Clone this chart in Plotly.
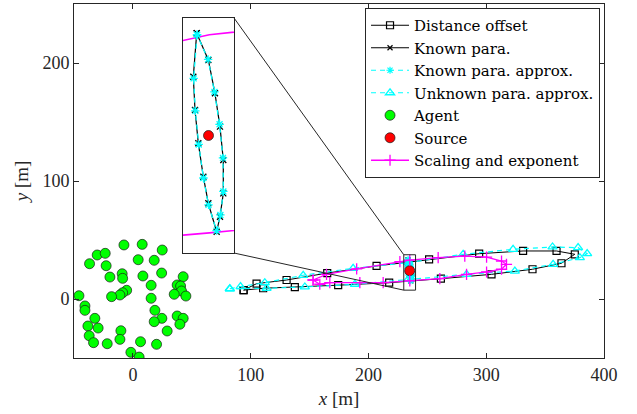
import plotly.graph_objects as go

# ---------------- data ----------------
x_ticks = [0, 100, 200, 300, 400]
y_ticks = [0, 100, 200]

# Distance offset trajectory (black, squares)
dist_x = [94.0, 105.0, 130.5, 165.0, 206.9, 251.5, 294.0, 331.3, 359.7, 375.2,
          363.9, 339.3, 304.5, 261.5, 217.6, 174.3, 137.5, 110.6, 94.0]
dist_y = [7.5, 13.0, 16.1, 22.0, 28.0, 33.6, 38.4, 40.7, 40.7, 37.9,
          30.3, 25.2, 20.9, 17.2, 13.8, 11.7, 10.0, 9.1, 7.5]

# Known para. (black, x) - small loop around the source
known_x = [233.61, 233.21, 233.41, 233.80, 234.39, 234.98, 235.96, 236.35,
           236.74, 236.74, 236.35, 235.76, 234.98, 233.61]
known_y = [33.13, 29.25, 26.28, 23.30, 20.32, 17.94, 15.40, 16.74,
           18.83, 21.81, 24.79, 27.77, 30.75, 33.13]

# Known para. approx. (cyan dashed, asterisk)
approx_x = [233.65, 233.25, 233.45, 233.85, 234.40, 235.00, 235.95, 236.40,
            236.75, 236.70, 236.30, 235.70, 234.95, 233.65]
approx_y = [33.00, 29.10, 26.20, 23.20, 20.20, 17.80, 15.50, 16.90,
            19.00, 22.00, 25.00, 27.90, 30.80, 33.00]

# Unknown para. approx. (cyan dashed, triangles)
unk_x = [82.3, 91.4, 112.0, 144.6, 187.0, 233.7, 280.4, 322.8, 356.3, 378.0,
         385.7, 379.5, 356.8, 324.3, 283.3, 233.7, 188.5, 146.0, 113.5, 82.3]
unk_y = [8.7, 10.5, 13.8, 20.1, 26.0, 30.8, 37.9, 42.1, 44.1, 43.5,
         38.4, 35.0, 29.4, 23.7, 20.9, 16.7, 12.5, 10.2, 9.1, 8.7]

# Scaling and exponent (magenta, plus)
mag_x = [153.0, 164.4, 190.0, 226.7, 235.1, 259.2, 281.8, 300.3, 313.0, 317.2,
         313.0, 300.3, 283.3, 260.6, 235.1, 212.5, 192.7, 167.2, 158.7, 153.0]
mag_y = [16.1, 20.9, 25.5, 31.6, 33.0, 35.0, 36.4, 35.5, 32.2, 29.4,
         25.2, 22.9, 20.9, 17.2, 15.3, 13.8, 13.8, 13.8, 12.5, 16.1]

# Agents (green)
agent_x = [-7.6, 7.9, -30.3, -23.5, 24.9, -36.8, -22.7, 4.5, 18.1, -19.5,
           -9.1, -8.7, 8.5, 24.4, 42.7, 15.5, 37.6, 40.5, 41.3, 35.1,
           45.0, -45.8, -5.3, -8.7, -11.0, -18.1, 15.5, -40.7, -40.7, 18.7,
           -32.3, 24.6, 37.6, 42.7, 18.1, 39.9, -38.2, -29.5, -10.2, 29.1,
           -37.1, -11.0, -33.4, -21.8, 6.5, 20.1, -1.7, 5.3]
agent_y = [45.8, 46.3, 37.3, 38.7, 41.5, 29.9, 28.2, 33.3, 32.8, 18.6,
           21.4, 17.5, 19.5, 22.0, 18.9, 11.6, 11.9, 11.0, 6.8, 4.0,
           2.5, 2.8, 7.4, 5.3, 3.4, 2.0, 0.6, -5.9, -9.6, -9.6,
           -16.4, -16.4, -14.4, -16.4, -19.2, -21.4, -22.9, -24.6, -26.9, -27.1,
           -31.1, -34.2, -37.0, -37.9, -36.2, -38.4, -45.2, -49.2]

# Source (red)
source_x = [235.0]
source_y = [24.0]

# axis ranges / zoom window
main_xr = [-50, 400]
main_yr = [-50, 250]
rect_x = [230, 240]
rect_y = [7.5, 37.5]
inset_xr = [232, 238]
inset_yr = [13.5, 34.5]
inset_dom_x = [0.2057, 0.3019]
inset_dom_y = [0.2966, 0.9605]

AX = '#262626'
CYAN = '#00FFFF'
MAG = '#FF00FF'
FONT = 'Liberation Serif'
LEG_FONT = 'DejaVu Serif'

fig = go.Figure()

fig.add_trace(go.Scatter(
    x=dist_x, y=dist_y, mode='lines+markers', name='Distance offset',
    line=dict(color='black', width=1),
    marker=dict(symbol='square-open', size=7, color='black', line=dict(width=1.2, color='black'))))
fig.add_trace(go.Scatter(
    x=known_x, y=known_y, mode='lines+markers', name='Known para.',
    line=dict(color='black', width=1),
    marker=dict(symbol='x-thin-open', size=5, color='black', line=dict(width=1.2, color='black'))))
fig.add_trace(go.Scatter(
    x=approx_x, y=approx_y, mode='lines+markers', name='Known para. approx.',
    line=dict(color=CYAN, width=1.2, dash='5px,4px'),
    marker=dict(symbol='asterisk-open', size=6, color=CYAN, line=dict(width=1.2, color=CYAN))))
fig.add_trace(go.Scatter(
    x=unk_x, y=unk_y, mode='lines+markers', name='Unknown para. approx.',
    line=dict(color=CYAN, width=1.2, dash='5px,4px'),
    marker=dict(symbol='triangle-up-open', size=8, color=CYAN, line=dict(width=1.3, color=CYAN))))
fig.add_trace(go.Scatter(
    x=agent_x, y=agent_y, mode='markers', name='Agent',
    marker=dict(symbol='circle', size=10, color='#00FF00', line=dict(width=0.7, color='#1a1a1a'))))
fig.add_trace(go.Scatter(
    x=source_x, y=source_y, mode='markers', name='Source',
    marker=dict(symbol='circle', size=10, color='#FF0000', line=dict(width=0.7, color='#1a1a1a'))))
fig.add_trace(go.Scatter(
    x=mag_x, y=mag_y, mode='lines+markers', name='Scaling and exponent',
    line=dict(color=MAG, width=1.3),
    marker=dict(symbol='cross-thin-open', size=8, color=MAG, line=dict(width=1.3, color=MAG))))

# ---- inset traces ----
fig.add_trace(go.Scatter(
    x=mag_x, y=mag_y, mode='lines', showlegend=False, xaxis='x2', yaxis='y2',
    line=dict(color=MAG, width=1.6), hoverinfo='skip'))
fig.add_trace(go.Scatter(
    x=known_x, y=known_y, mode='lines+markers', showlegend=False, xaxis='x2', yaxis='y2',
    line=dict(color='black', width=1.2),
    marker=dict(symbol='x-thin-open', size=6, color='black', line=dict(width=1.3, color='black'))))
fig.add_trace(go.Scatter(
    x=approx_x, y=approx_y, mode='lines+markers', showlegend=False, xaxis='x2', yaxis='y2',
    line=dict(color=CYAN, width=1.3, dash='5px,4px'),
    marker=dict(symbol='asterisk-open', size=7, color=CYAN, line=dict(width=1.3, color=CYAN))))
fig.add_trace(go.Scatter(
    x=source_x, y=source_y, mode='markers', showlegend=False, xaxis='x2', yaxis='y2',
    marker=dict(symbol='circle', size=10, color='#FF0000', line=dict(width=0.7, color='#1a1a1a'))))


def px_x(v):
    return (v - main_xr[0]) / (main_xr[1] - main_xr[0])


def px_y(v):
    return (v - main_yr[0]) / (main_yr[1] - main_yr[0])


shapes = [
    dict(type='rect', xref='x', yref='y', x0=rect_x[0], x1=rect_x[1], y0=rect_y[0], y1=rect_y[1],
         line=dict(color=AX, width=1)),
    dict(type='line', xref='paper', yref='paper', x0=inset_dom_x[1], y0=inset_dom_y[1],
         x1=px_x(rect_x[0]), y1=px_y(rect_y[1]), line=dict(color=AX, width=1)),
    dict(type='line', xref='paper', yref='paper', x0=inset_dom_x[1], y0=inset_dom_y[0],
         x1=px_x(rect_x[0]), y1=px_y(rect_y[0]), line=dict(color=AX, width=1)),
]

axis_common = dict(showgrid=False, zeroline=False, showline=True, linecolor=AX, linewidth=1,
                   ticks='inside', ticklen=5, tickcolor=AX, mirror='ticks', automargin=False,
                   tickfont=dict(family=FONT, size=18, color=AX))

fig.update_layout(
    width=637, height=414, autosize=False,
    margin=dict(l=74, r=33, t=4, b=56),
    plot_bgcolor='white', paper_bgcolor='white',
    font=dict(family=FONT, size=17, color=AX),
    xaxis=dict(range=main_xr, tickvals=x_ticks, **axis_common,
               title=dict(text='<i>x</i> [m]', font=dict(family=FONT, size=19, color=AX), standoff=8)),
    yaxis=dict(range=main_yr, tickvals=y_ticks, **axis_common,
               title=dict(text='<i>y</i> [m]', font=dict(family=FONT, size=19, color=AX), standoff=8)),
    xaxis2=dict(domain=inset_dom_x, anchor='y2', range=inset_xr, showticklabels=False, ticks='',
                showline=True, mirror=True, linecolor=AX, showgrid=False, zeroline=False),
    yaxis2=dict(domain=inset_dom_y, anchor='x2', range=inset_yr, showticklabels=False, ticks='',
                showline=True, mirror=True, linecolor=AX, showgrid=False, zeroline=False),
    legend=dict(x=0.9925, y=0.9887, xanchor='right', yanchor='top', bgcolor='white',
                bordercolor=AX, borderwidth=1, font=dict(family=LEG_FONT, size=15, color='black'),
                tracegroupgap=0, itemwidth=38),
    shapes=shapes,
    showlegend=True,
)

fig.write_html('out.html', config={'displayModeBar': False},
               post_script="document.body.style.margin='0px';")
